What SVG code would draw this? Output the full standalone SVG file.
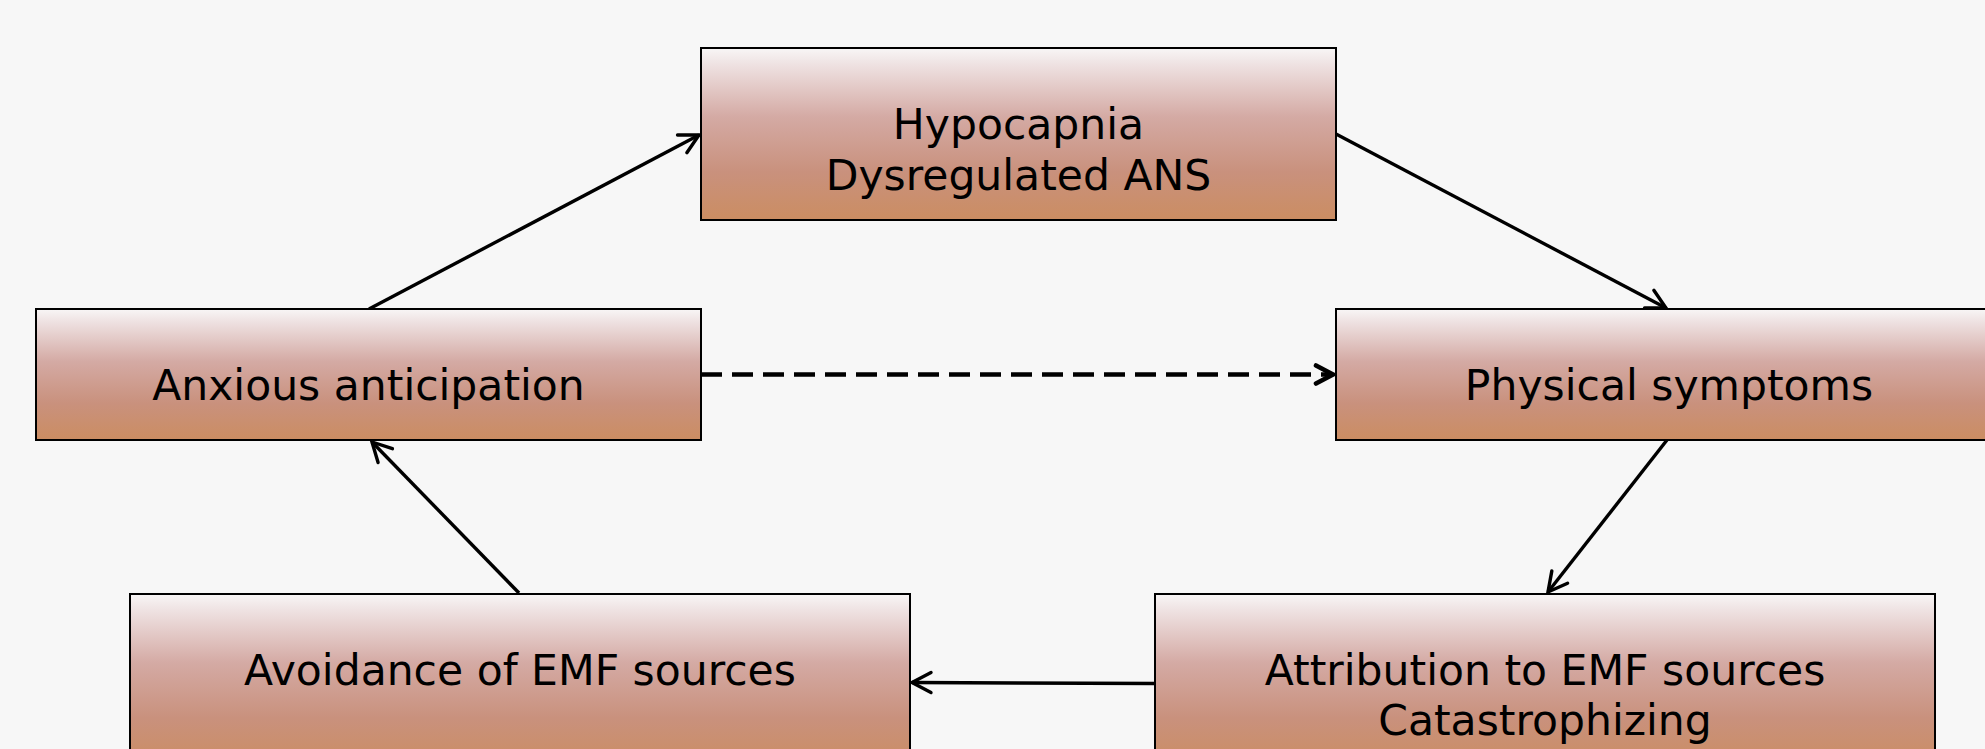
<svg xmlns="http://www.w3.org/2000/svg" width="1985" height="749" viewBox="0 0 1985 749">
  <style>
    .box { stroke: #000; stroke-width: 2; fill: url(#grad); }
    .lbl { font-family: "DejaVu Sans", Verdana, sans-serif; font-size: 42.5px; fill: #000; text-anchor: middle; }
    .conn { stroke: #000; stroke-width: 3.4; fill: none; marker-end: url(#arrow); }
    .dash { stroke: #000; stroke-width: 4.6; fill: none; stroke-dasharray: 21 10; marker-end: url(#arrowBold); }
  </style>
  <defs>
    <linearGradient id="grad" x1="0" y1="0" x2="0" y2="1">
      <stop offset="0" stop-color="#f8f6f6"/>
      <stop offset="0.1" stop-color="#eee1e1"/>
      <stop offset="0.4" stop-color="#d4aaa4"/>
      <stop offset="0.72" stop-color="#c9917d"/>
      <stop offset="1" stop-color="#cb8d62"/>
    </linearGradient>
    <marker id="arrow" markerUnits="userSpaceOnUse" viewBox="-24 -14 28 28" markerWidth="28" markerHeight="28" refX="0" refY="0" orient="auto">
      <path d="M -19 -10 L 0 0 L -19 10" fill="none" stroke="#000" stroke-width="3.4" stroke-linecap="round" stroke-linejoin="miter"/>
    </marker>
    <marker id="arrowBold" markerUnits="userSpaceOnUse" viewBox="-24 -14 28 28" markerWidth="28" markerHeight="28" refX="0" refY="0" orient="auto">
      <path d="M -17 -9 L 0 0 L -17 9" fill="none" stroke="#000" stroke-width="4.6" stroke-linecap="round"/>
    </marker>
  </defs>
  <rect x="0" y="0" width="1985" height="749" fill="#f7f7f7"/>

  <g id="connectors">
    <line class="conn" x1="369" y1="309" x2="699" y2="135"/>
    <line class="conn" x1="1336" y1="134" x2="1666" y2="308"/>
    <line class="dash" x1="701" y1="374.5" x2="1333" y2="374.5"/>
    <line class="conn" x1="1667" y1="440" x2="1548" y2="592"/>
    <line class="conn" x1="1155" y1="683.5" x2="912" y2="682.5"/>
    <line class="conn" x1="519" y1="593" x2="372" y2="442"/>
  </g>

  <g id="node-hypocapnia">
    <rect class="box" x="701" y="48" width="635" height="172"/>
    <text class="lbl" x="1018.5" y="139">Hypocapnia</text>
    <text class="lbl" x="1018.5" y="190">Dysregulated ANS</text>
  </g>
  <g id="node-anxious">
    <rect class="box" x="36" y="309" width="665" height="131"/>
    <text class="lbl" x="368.5" y="400">Anxious anticipation</text>
  </g>
  <g id="node-physical">
    <rect class="box" x="1336" y="309" width="665" height="131"/>
    <text class="lbl" x="1669" y="400">Physical symptoms</text>
  </g>
  <g id="node-avoidance">
    <rect class="box" x="130" y="594" width="780" height="172"/>
    <text class="lbl" x="520" y="685">Avoidance of EMF sources</text>
  </g>
  <g id="node-attribution">
    <rect class="box" x="1155" y="594" width="780" height="172"/>
    <text class="lbl" x="1545" y="685">Attribution to EMF sources</text>
    <text class="lbl" x="1545" y="735">Catastrophizing</text>
  </g>
</svg>
